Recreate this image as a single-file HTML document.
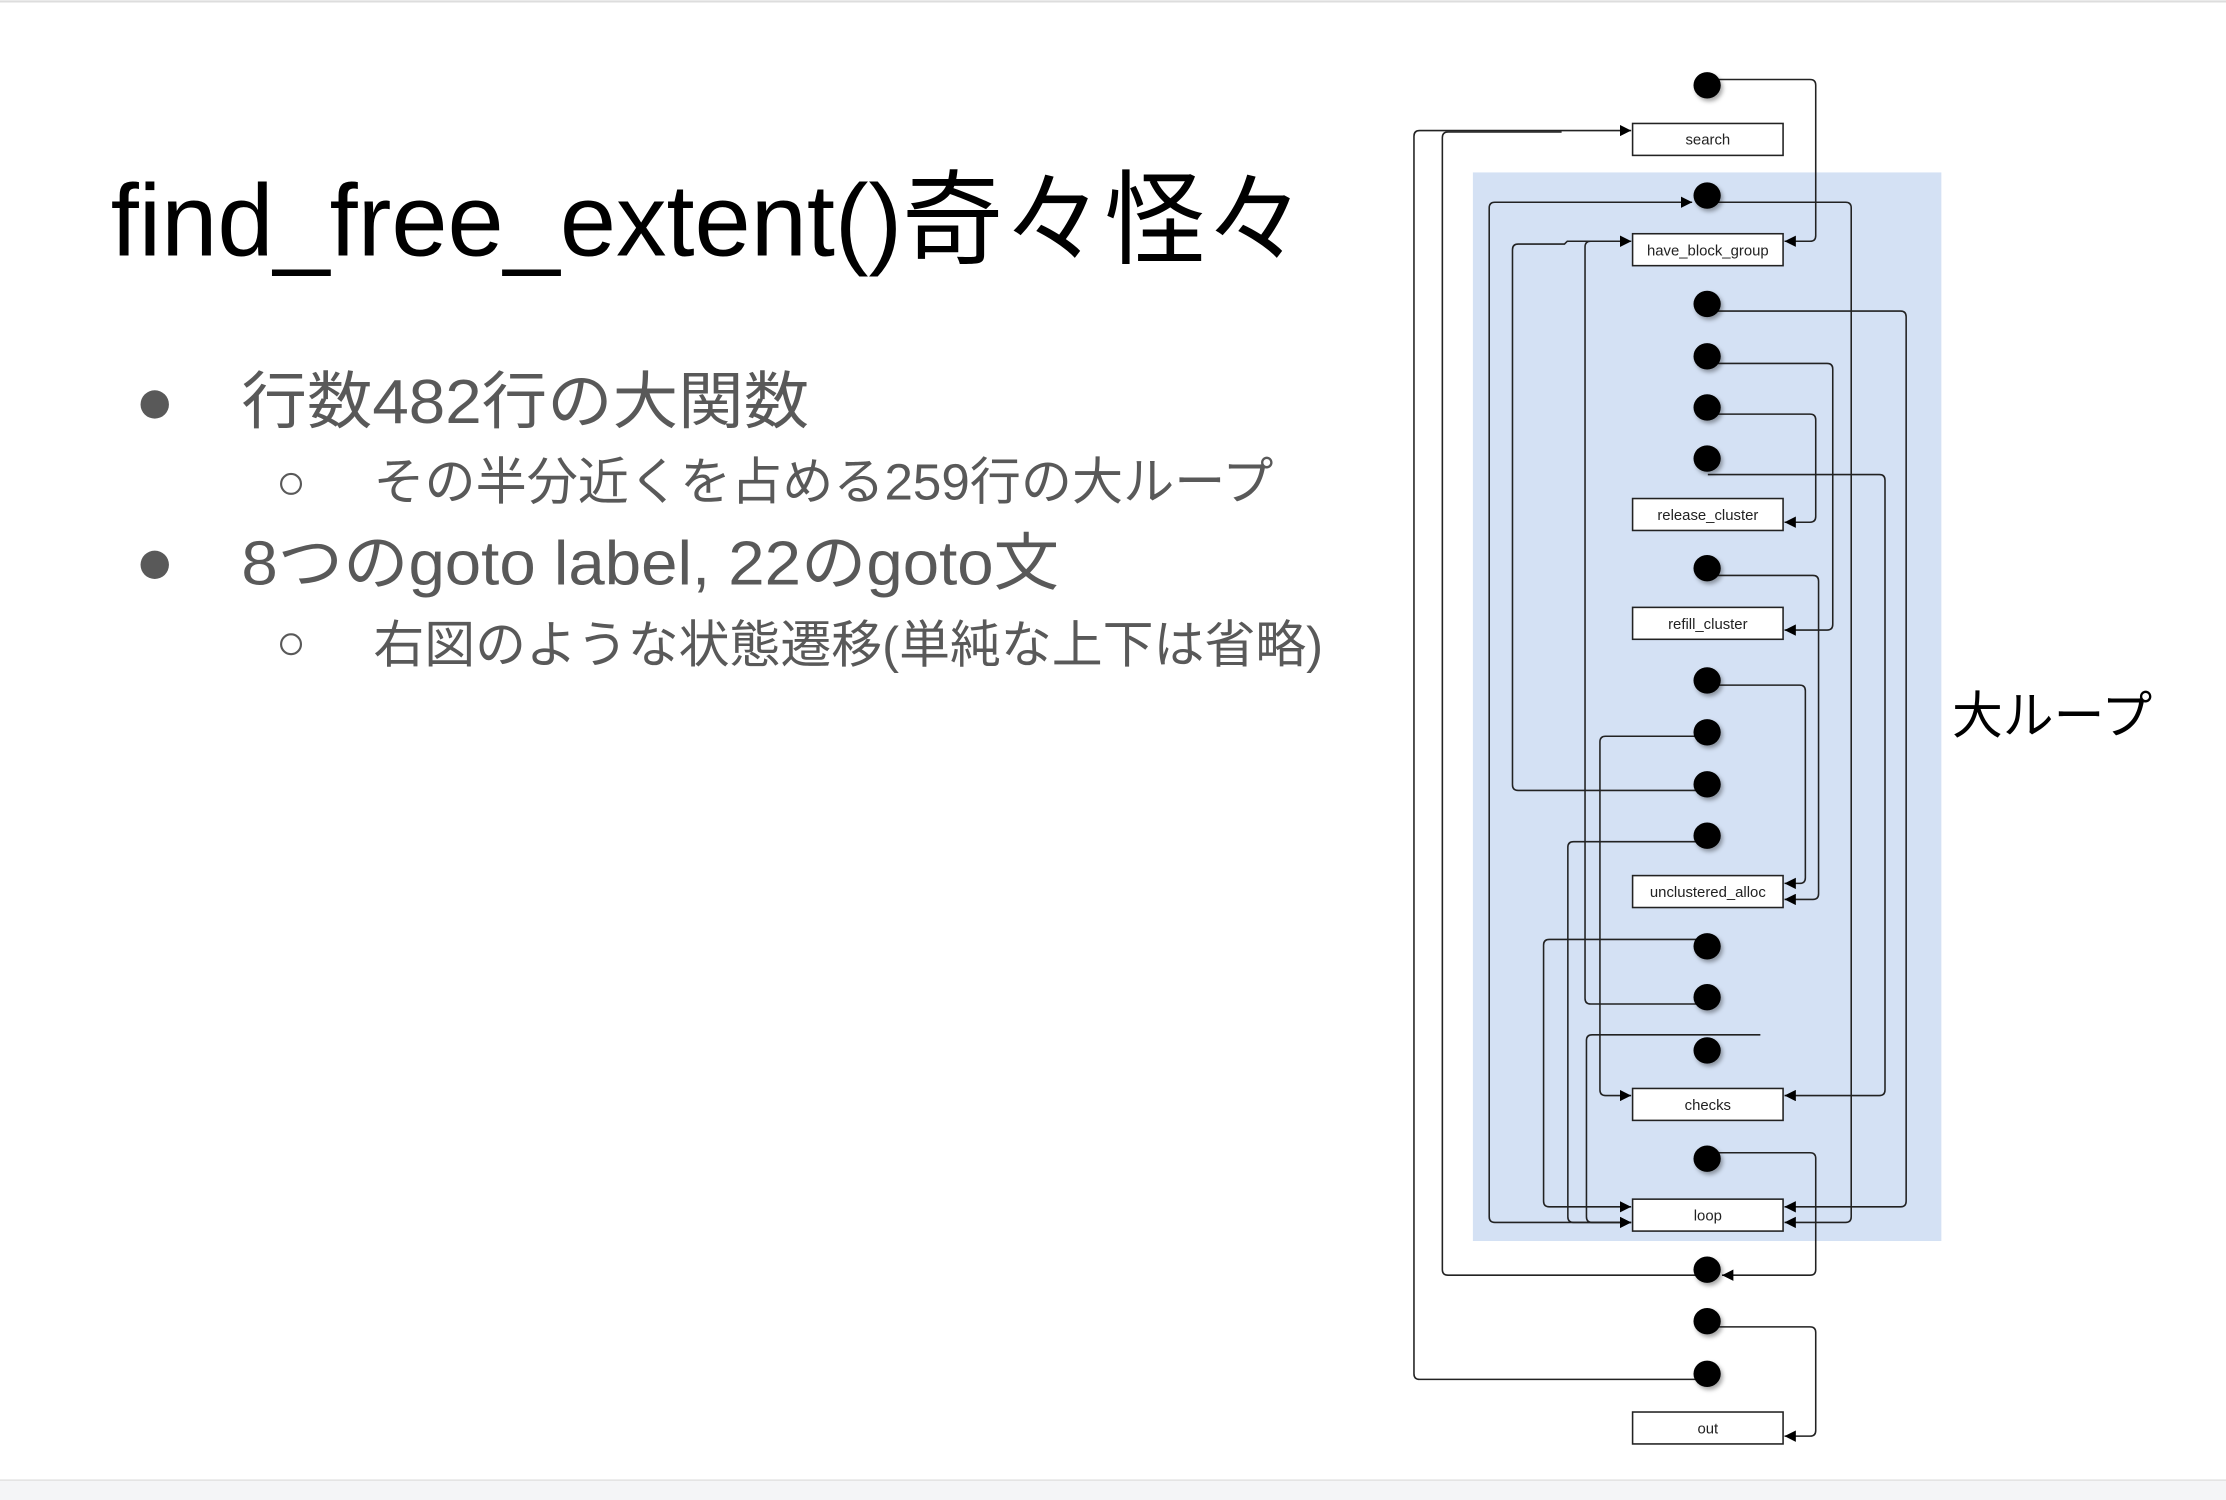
<!DOCTYPE html>
<html><head><meta charset="utf-8"><style>
html,body{margin:0;padding:0;background:#fff;}
svg{display:block;}
</style></head><body>
<svg width="2226" height="1500" viewBox="0 0 1568 1057" preserveAspectRatio="none" xmlns="http://www.w3.org/2000/svg">
<defs>
<marker id="a" viewBox="0 0 10 10" refX="10" refY="5" markerWidth="8" markerHeight="8" markerUnits="userSpaceOnUse" orient="auto"><path d="M0,0 L10,5 L0,10 z" fill="#000"/></marker>
<filter id="sh" x="-50%" y="-50%" width="200%" height="200%"><feDropShadow dx="1.5" dy="2" stdDeviation="1.5" flood-color="#000" flood-opacity="0.35"/></filter>
</defs>
<rect x="0" y="0" width="1568" height="1057" fill="#fff"/>
<line x1="0" y1="1" x2="1568" y2="1" stroke="#ddd" stroke-width="1.5"/>
<rect x="0" y="1043" width="1568" height="14" fill="#f4f5f7"/>
<line x1="0" y1="1043" x2="1568" y2="1043" stroke="#e2e2e2" stroke-width="1"/>

<g font-family="'Liberation Sans','Noto Sans CJK JP',sans-serif">
<text x="78" y="180" font-size="72" fill="#000" textLength="842" lengthAdjust="spacingAndGlyphs">find_free_extent()奇々怪々</text>
<circle cx="109" cy="285" r="10" fill="#595959"/>
<text x="170" y="298" font-size="44" fill="#595959" textLength="400" lengthAdjust="spacingAndGlyphs">行数482行の大関数</text>
<circle cx="205" cy="341" r="7" fill="none" stroke="#595959" stroke-width="1.5"/>
<text x="263" y="352" font-size="36" fill="#595959" textLength="634" lengthAdjust="spacingAndGlyphs">その半分近くを占める259行の大ループ</text>
<circle cx="109" cy="398" r="10" fill="#595959"/>
<text x="170" y="412" font-size="44" fill="#595959" textLength="576" lengthAdjust="spacingAndGlyphs">8つのgoto label, 22のgoto文</text>
<circle cx="205" cy="454" r="7" fill="none" stroke="#595959" stroke-width="1.5"/>
<text x="263" y="467" font-size="36" fill="#595959" textLength="669" lengthAdjust="spacingAndGlyphs">右図のような状態遷移(単純な上下は省略)</text>
<text x="1375" y="517" font-size="36" fill="#000" textLength="141" lengthAdjust="spacingAndGlyphs">大ループ</text>
</g>

<rect x="1037.5" y="121.5" width="330" height="753" fill="#d4e1f4"/>

<g fill="none" stroke="#222" stroke-width="1.1">
<!-- 1 oval1 -> hbg -->
<path d="M1203 56 H1275 Q1279 56 1279 60 V166 Q1279 170 1275 170 H1257" marker-end="url(#a)"/>
<!-- oval18 -> search via x996 -->
<path d="M1203 972 H1000 Q996 972 996 968 V96 Q996 92 1000 92 H1149" marker-end="url(#a)"/>
<!-- oval16 -> search via x1016 -->
<path d="M1203 898.6 H1020 Q1016 898.6 1016 894.6 V97 Q1016 93 1020 93 H1100"/>
<!-- oval15 -> oval16 -->
<path d="M1203 812.3 H1275 Q1279 812.3 1279 816.3 V894.6 Q1279 898.6 1275 898.6 H1213" marker-end="url(#a)"/>
<!-- oval17 -> out -->
<path d="M1203 935 H1275 Q1279 935 1279 939 V1008 Q1279 1012 1275 1012 H1257" marker-end="url(#a)"/>
<!-- loop left -> oval2 via 1049 -->
<path d="M1149 861.4 H1053 Q1049 861.4 1049 857.4 V146.5 Q1049 142.5 1053 142.5 H1192" marker-end="url(#a)"/>
<!-- oval2 -> loop right via 1304 -->
<path d="M1203 142.5 H1300 Q1304 142.5 1304 146.5 V857.4 Q1304 861.4 1300 861.4 H1257" marker-end="url(#a)"/>
<!-- oval10 -> hbg via 1065 -->
<path d="M1203 557 H1069.4 Q1065.4 557 1065.4 553 V176 Q1065.4 172 1069.4 172 H1102 L1104 170 H1149" marker-end="url(#a)"/>
<!-- oval13 -> hbg via 1116.5 -->
<path d="M1203 707.5 H1120.5 Q1116.5 707.5 1116.5 703.5 V174 Q1116.5 170 1120.5 170 H1149" marker-end="url(#a)"/>
<!-- oval3 -> loop right via 1342.7 -->
<path d="M1203 219.2 H1338.7 Q1342.7 219.2 1342.7 223.2 V846.4 Q1342.7 850.4 1338.7 850.4 H1257" marker-end="url(#a)"/>
<!-- oval4 -> refill -->
<path d="M1203 256.1 H1287 Q1291 256.1 1291 260.1 V440 Q1291 444 1287 444 H1257" marker-end="url(#a)"/>
<!-- oval5 -> release -->
<path d="M1203 291.8 H1275 Q1279 291.8 1279 295.8 V364 Q1279 368 1275 368 H1257" marker-end="url(#a)"/>
<!-- oval6 -> checks -->
<path d="M1203 334.4 H1323.8 Q1327.8 334.4 1327.8 338.4 V768 Q1327.8 772 1323.8 772 H1257" marker-end="url(#a)"/>
<!-- oval7 -> unclustered -->
<path d="M1203 405.5 H1277 Q1281 405.5 1281 409.5 V629.8 Q1281 633.8 1277 633.8 H1257" marker-end="url(#a)"/>
<!-- oval8 -> unclustered -->
<path d="M1203 482.8 H1267.7 Q1271.7 482.8 1271.7 486.8 V618.5 Q1271.7 622.5 1267.7 622.5 H1257" marker-end="url(#a)"/>
<!-- oval9 -> checks left -->
<path d="M1203 518.8 H1131 Q1127 518.8 1127 522.8 V768 Q1127 772 1131 772 H1149" marker-end="url(#a)"/>
<!-- oval11 -> loop left -->
<path d="M1203 593.1 H1108.4 Q1104.4 593.1 1104.4 597.1 V857.4 Q1104.4 861.4 1108.4 861.4 H1149" marker-end="url(#a)"/>
<!-- oval12 -> loop left -->
<path d="M1203 662 H1091.3 Q1087.3 662 1087.3 666 V846.4 Q1087.3 850.4 1091.3 850.4 H1149" marker-end="url(#a)"/>
<!-- stub -> loop left -->
<path d="M1240 729.2 H1121.5 Q1117.5 729.2 1117.5 733.2 V857.4 Q1117.5 861.4 1121.5 861.4 H1149" marker-end="url(#a)"/>
</g>

<g fill="#fff" stroke="#222" stroke-width="1.1">
<rect x="1150" y="87" width="106" height="22.5"/>
<rect x="1150" y="164.7" width="106" height="22.5"/>
<rect x="1150" y="351.3" width="106" height="22.5"/>
<rect x="1150" y="428" width="106" height="22.5"/>
<rect x="1150" y="617" width="106" height="22.5"/>
<rect x="1150" y="767" width="106" height="22.5"/>
<rect x="1150" y="845" width="106" height="22.5"/>
<rect x="1150" y="995" width="106" height="22.5"/>
</g>
<g font-family="'Liberation Sans',sans-serif" font-size="10.5" fill="#222" text-anchor="middle">
<text x="1203" y="102">search</text>
<text x="1203" y="180">have_block_group</text>
<text x="1203" y="366.5">release_cluster</text>
<text x="1203" y="443.2">refill_cluster</text>
<text x="1203" y="632.2">unclustered_alloc</text>
<text x="1203" y="782.2">checks</text>
<text x="1203" y="860.2">loop</text>
<text x="1203" y="1010.2">out</text>
</g>

<g fill="#000" filter="url(#sh)">
<ellipse cx="1202.5" cy="60.1" rx="9.6" ry="9.3"/>
<ellipse cx="1202.5" cy="137.8" rx="9.6" ry="9.3"/>
<ellipse cx="1202.5" cy="214.2" rx="9.6" ry="9.3"/>
<ellipse cx="1202.5" cy="251.1" rx="9.6" ry="9.3"/>
<ellipse cx="1202.5" cy="287.1" rx="9.6" ry="9.3"/>
<ellipse cx="1202.5" cy="323.1" rx="9.6" ry="9.3"/>
<ellipse cx="1202.5" cy="400.4" rx="9.6" ry="9.3"/>
<ellipse cx="1202.5" cy="479.5" rx="9.6" ry="9.3"/>
<ellipse cx="1202.5" cy="516" rx="9.6" ry="9.3"/>
<ellipse cx="1202.5" cy="552.7" rx="9.6" ry="9.3"/>
<ellipse cx="1202.5" cy="588.9" rx="9.6" ry="9.3"/>
<ellipse cx="1202.5" cy="666.8" rx="9.6" ry="9.3"/>
<ellipse cx="1202.5" cy="702.7" rx="9.6" ry="9.3"/>
<ellipse cx="1202.5" cy="740.2" rx="9.6" ry="9.3"/>
<ellipse cx="1202.5" cy="816.5" rx="9.6" ry="9.3"/>
<ellipse cx="1202.5" cy="894.7" rx="9.6" ry="9.3"/>
<ellipse cx="1202.5" cy="931" rx="9.6" ry="9.3"/>
<ellipse cx="1202.5" cy="968.1" rx="9.6" ry="9.3"/>
</g>
</svg>
</body></html>
